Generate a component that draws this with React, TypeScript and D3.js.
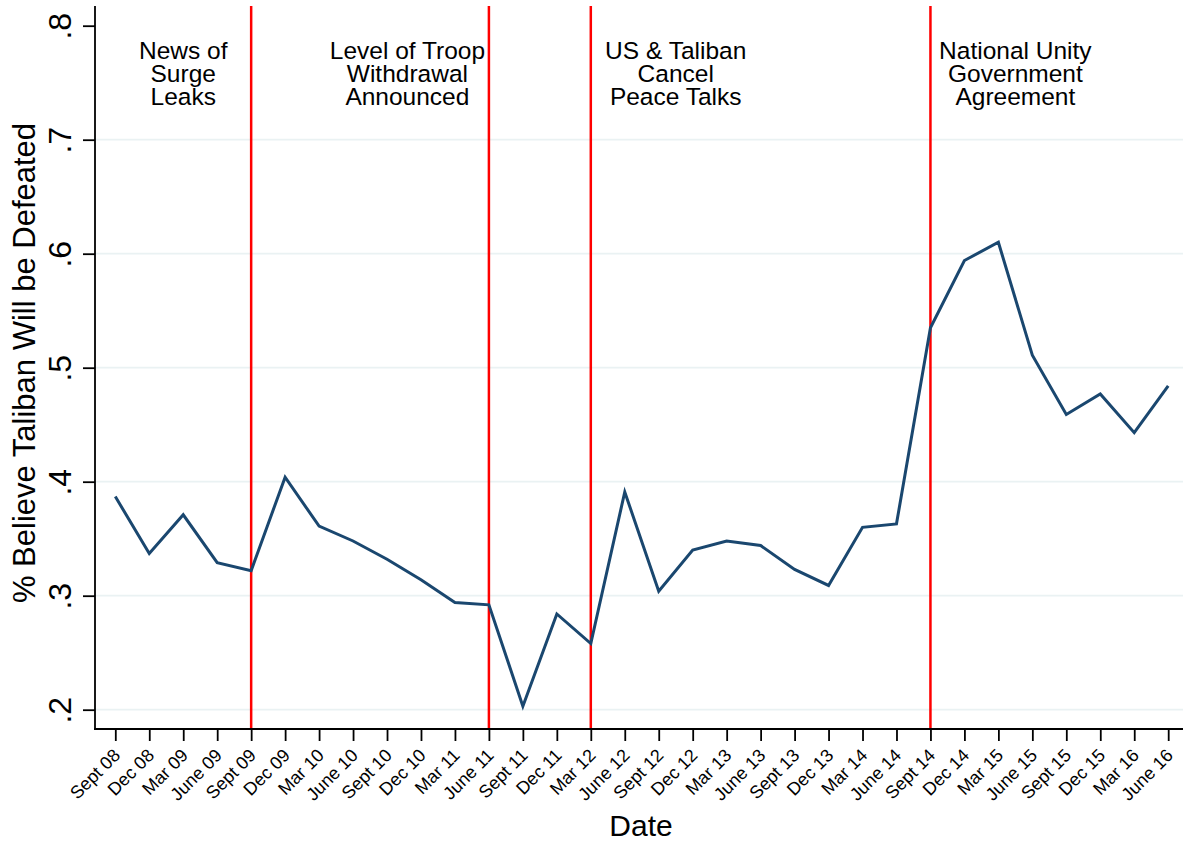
import React, { useEffect, useRef } from 'react';
import * as d3 from 'd3';

const categories = [
  'Sept 08', 'Dec 08', 'Mar 09', 'June 09', 'Sept 09', 'Dec 09', 'Mar 10', 'June 10',
  'Sept 10', 'Dec 10', 'Mar 11', 'June 11', 'Sept 11', 'Dec 11', 'Mar 12', 'June 12',
  'Sept 12', 'Dec 12', 'Mar 13', 'June 13', 'Sept 13', 'Dec 13', 'Mar 14', 'June 14',
  'Sept 14', 'Dec 14', 'Mar 15', 'June 15', 'Sept 15', 'Dec 15', 'Mar 16', 'June 16',
];

const defeated = [
  0.387, 0.337, 0.371, 0.329, 0.322, 0.404, 0.361, 0.348,
  0.332, 0.314, 0.294, 0.292, 0.203, 0.284, 0.258, 0.391,
  0.304, 0.340, 0.348, 0.344, 0.323, 0.309, 0.360, 0.363,
  0.535, 0.594, 0.610, 0.511, 0.459, 0.477, 0.443, 0.484,
];

const yTicks = [0.2, 0.3, 0.4, 0.5, 0.6, 0.7, 0.8];
const yTickLabels = ['.2', '.3', '.4', '.5', '.6', '.7', '.8'];
const gridTicks = [0.2, 0.3, 0.4, 0.5, 0.6, 0.7];

// events: date of the red line, and where the note sits (in quarter index units)
const eventDates = ['Sept 09', 'June 11', 'Mar 12', 'Sept 14'];
const eventNotes = [
  ['News of', 'Surge', 'Leaks'],
  ['Level of Troop', 'Withdrawal', 'Announced'],
  ['US & Taliban', 'Cancel', 'Peace Talks'],
  ['National Unity', 'Government', 'Agreement'],
];
const notePositions = [2, 8.6, 16.5, 26.5];

const W = 1183;
const H = 842;
const FONT = '"Liberation Sans", Arial, Helvetica, sans-serif';

export default function App() {
  const svgRef = useRef<SVGSVGElement>(null);

  useEffect(() => {
    const left = 95;
    const right = 1183;
    const top = 6;
    const bottom = 729;

    const svg = d3.select(svgRef.current).html(null);
    svg.append('rect').attr('width', W).attr('height', H).attr('fill', '#fff');

    const x = d3.scalePoint<string>().domain(categories).range([115.3, 1168.2]);
    const xi = d3.scaleLinear().domain([0, categories.length - 1]).range([115.3, 1168.2]);
    const y = d3.scaleLinear().domain([0.2, 0.8]).range([709.7, 25.7]);

    // gridlines
    svg.append('g')
      .selectAll('line')
      .data(gridTicks)
      .join('line')
      .attr('x1', left)
      .attr('x2', right)
      .attr('y1', (d) => y(d))
      .attr('y2', (d) => y(d))
      .attr('stroke', '#eaf2f3')
      .attr('stroke-width', 1.8);

    // red event lines
    svg.append('g')
      .selectAll('line')
      .data(eventDates)
      .join('line')
      .attr('x1', (d) => x(d)!)
      .attr('x2', (d) => x(d)!)
      .attr('y1', top)
      .attr('y2', bottom)
      .attr('stroke', '#ff0000')
      .attr('stroke-width', 2.5);

    // event notes
    const notes = svg.append('g')
      .attr('font-family', FONT)
      .attr('font-size', 24.5)
      .attr('fill', '#000')
      .attr('text-anchor', 'middle');
    eventNotes.forEach((lines, i) => {
      const t = notes.append('text').attr('x', xi(notePositions[i])).attr('y', 58.5);
      lines.forEach((ln, j) => {
        t.append('tspan')
          .attr('x', xi(notePositions[i]))
          .attr('dy', j === 0 ? 0 : 23)
          .text(ln);
      });
    });

    // data line
    const line = d3.line<number>()
      .x((d, i) => x(categories[i])!)
      .y((d) => y(d));
    svg.append('path')
      .datum(defeated)
      .attr('d', line)
      .attr('fill', 'none')
      .attr('stroke', '#1a476f')
      .attr('stroke-width', 3)
      .attr('stroke-linejoin', 'miter');

    // y axis
    const yAxis = svg.append('g')
      .attr('transform', `translate(${left},0)`)
      .call(
        d3.axisLeft(y)
          .tickValues(yTicks)
          .tickSize(12)
          .tickFormat((d, i) => yTickLabels[i]),
      );
    yAxis.select('.domain').remove();
    yAxis.selectAll('.tick line').attr('stroke', '#000').attr('stroke-width', 1.8);
    yAxis.selectAll('.tick text')
      .attr('font-family', FONT)
      .attr('font-size', 32)
      .attr('fill', '#000')
      .attr('x', null)
      .attr('dy', null)
      .attr('text-anchor', 'middle')
      .attr('transform', 'translate(-24,0) rotate(-90)');

    // x axis
    const xAxis = svg.append('g')
      .attr('transform', `translate(0,${bottom})`)
      .call(d3.axisBottom(x).tickSize(12));
    xAxis.select('.domain').remove();
    xAxis.selectAll('.tick line').attr('stroke', '#000').attr('stroke-width', 1.8);
    xAxis.selectAll('.tick text')
      .attr('font-family', FONT)
      .attr('font-size', 18)
      .attr('fill', '#000')
      .attr('y', null)
      .attr('dy', '0.35em')
      .attr('text-anchor', 'end')
      .attr('transform', 'translate(1,23) rotate(-45)');

    // axis lines
    svg.append('line')
      .attr('x1', left).attr('x2', left)
      .attr('y1', top).attr('y2', bottom + 0.9)
      .attr('stroke', '#000').attr('stroke-width', 1.8);
    svg.append('line')
      .attr('x1', left - 0.9).attr('x2', right)
      .attr('y1', bottom).attr('y2', bottom)
      .attr('stroke', '#000').attr('stroke-width', 1.8);

    // titles
    svg.append('text')
      .attr('x', (left + right) / 2 + 2)
      .attr('y', 835.5)
      .attr('text-anchor', 'middle')
      .attr('font-family', FONT)
      .attr('font-size', 30)
      .text('Date');
    svg.append('text')
      .attr('transform', 'translate(35,363) rotate(-90)')
      .attr('text-anchor', 'middle')
      .attr('font-family', FONT)
      .attr('font-size', 31)
      .text('% Believe Taliban Will be Defeated');
  }, []);

  return (
    <svg
      ref={svgRef}
      width={W}
      height={H}
      style={{ position: 'absolute', left: 0, top: 0, display: 'block' }}
    />
  );
}
